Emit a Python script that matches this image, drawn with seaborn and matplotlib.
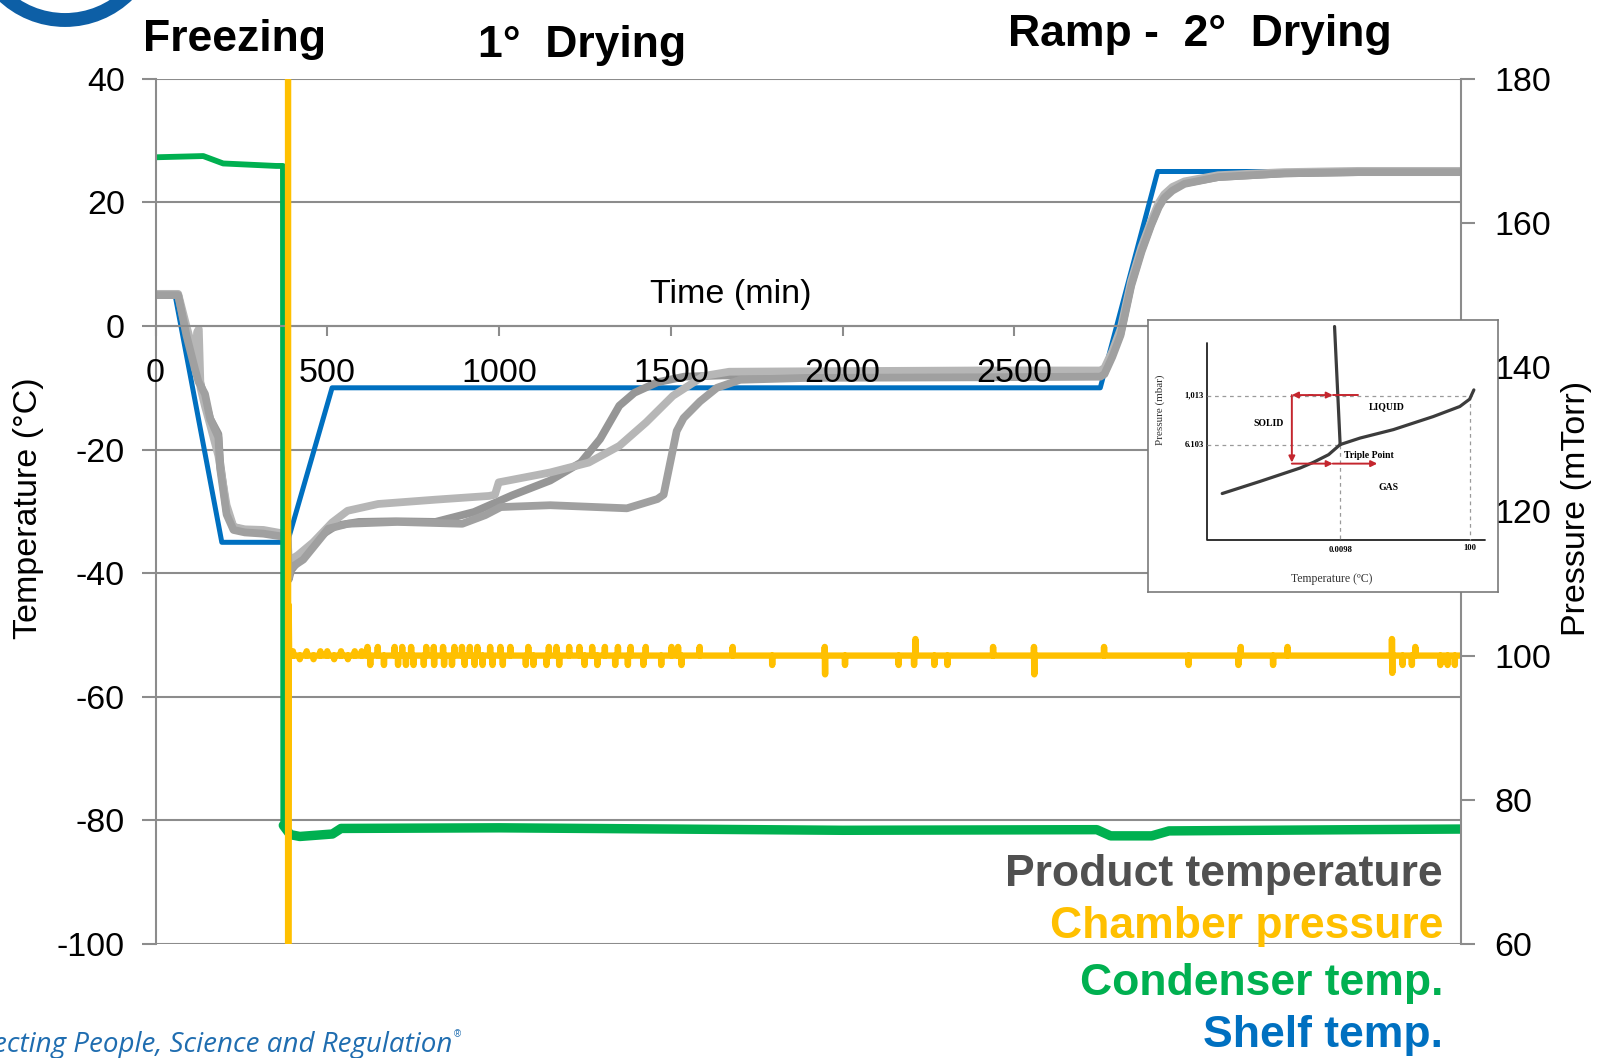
import numpy as np
import pandas as pd
import matplotlib
matplotlib.use("Agg")
import matplotlib.pyplot as plt
import seaborn as sns
from matplotlib.patches import Arc

# ---------------- data ----------------
shelf_t = [0, 57, 193, 384, 514, 2750, 2917, 3800]
shelf_T = [5, 5, -35, -35, -10, -10, 25, 25]

prodA_t = [0, 66, 90, 115, 144, 159, 183, 188, 207, 227, 260, 314, 384, 388, 395, 430, 481, 526, 592, 700, 815,
           927, 1038, 1149, 1238, 1294, 1350, 1394, 1461, 1539, 1650, 2000, 2400, 2750, 2762, 2785, 2809,
           2840, 2870, 2898, 2920, 2936, 2960, 2995, 3093, 3286, 3500, 3800]
prodA_T = [5, 5, -1, -6, -12, -15, -17.5, -22, -30, -32.5, -33.1, -33.3, -34, -41, -39.5, -37, -33.9, -32.3,
           -31.7, -31.6, -31.7, -30.1, -27.4, -25, -22.1, -18.3, -12.9, -10.8, -9.1, -8.2, -8.0, -8.0, -8.1,
           -8.0, -7.6, -4.5, -1.2, 6.8, 12.3, 16.5, 19.4, 20.8, 22.2, 23.1, 24.1, 24.7, 24.9, 24.9]

prodB_t = [0, 66, 90, 110, 116, 121, 126, 131, 144, 159, 183, 207, 227, 260, 314, 384, 388, 414, 459, 514, 559,
           648, 815, 971, 988, 999, 1149, 1261, 1350, 1428, 1506, 1595, 1670, 2000, 2400, 2750, 2762,
           2785, 2809, 2840, 2870, 2898, 2920, 2936, 2960, 2995, 3093, 3286, 3500, 3800]
prodB_T = [5.2, 5.2, 0, -4, -7, -1, -0.5, -10, -13, -16, -21, -29, -32.5, -32.9, -33, -33.7, -38, -37.1, -35,
           -31.8, -29.9, -28.8, -28.1, -27.5, -27.3, -25.3, -23.7, -22.1, -19.4, -15.6, -11.3, -8.1,
           -7.4, -7.3, -7.2, -7.2, -6.8, -4.1, -0.5, 7.3, 12.8, 17, 19.9, 21.3, 22.5, 23.4, 24.4, 24.9, 25.1, 25.1]

prodC_t = [0, 66, 90, 115, 125, 144, 159, 183, 188, 207, 227, 260, 314, 384, 388, 392, 430, 503, 560, 704, 893,
           960, 1005, 1149, 1372, 1461, 1479, 1493, 1517, 1537, 1585, 1634, 1702, 1896, 2400, 2750,
           2762, 2785, 2809, 2840, 2870, 2898, 2920, 2936, 2960, 2995, 3093, 3286, 3500, 3800]
prodC_T = [5, 5, -1.5, -7, -9, -11, -15, -18, -23, -30.5, -33, -33.4, -33.6, -34.2, -40.5, -39.2, -37.8, -32.8,
           -32, -31.7, -32, -30.6, -29.3, -29, -29.5, -28, -27.3, -23.5, -17, -14.9, -12.2, -10, -8.7, -8.4,
           -8.3, -8.2, -7.8, -5, -1.5, 6.5, 12, 16.3, 19.2, 20.7, 21.9, 23, 24.1, 24.7, 24.9, 24.9]

cond_t = [0, 139, 197, 351, 371, 372, 392, 420, 515, 540, 1000, 2000, 2740, 2780, 2900, 2950, 3500, 3800]
cond_T = [27.3, 27.5, 26.3, 25.9, 25.9, -80.8, -82.3, -82.6, -82.2, -81.3, -81.2, -81.6, -81.5, -82.5,
          -82.5, -81.7, -81.5, -81.4]

press_base_t = [0, 385, 386, 387.5, 389, 3800]
press_base_v = [1000, 1000, 30, 107, 100, 100]
press_small_t = [400, 420, 440, 460, 480, 500, 520, 540, 560, 580, 600]
press_small_v = [100.6, 99.5, 100.6, 99.5, 100.6, 100.6, 99.5, 100.6, 99.5, 100.6, 100.6]
press_up_t = [617, 647, 696, 718, 744, 788, 810, 837, 870, 892, 915, 937, 974, 1004, 1033, 1085, 1145,
              1167, 1204, 1234, 1271, 1308, 1346, 1383, 1427, 1502, 1521, 1584, 1680, 1948, 2212, 2438,
              2557, 2761, 3159, 3295, 3599, 3667]
press_up_v = [101.2] * 30 + [102.3, 101.2, 101.2, 101.2, 101.2, 101.2, 102.3, 101.2]
press_dn_t = [625, 665, 706, 729, 751, 781, 811, 840, 863, 900, 929, 952, 981, 1011, 1078, 1100, 1138,
              1175, 1249, 1286, 1338, 1375, 1420, 1472, 1531, 1795, 1949, 2007, 2163, 2208, 2267, 2305,
              2558, 3007, 3152, 3253, 3600, 3630, 3657, 3740, 3761, 3782]
press_dn_v = [98.7] * 26 + [97.4, 98.7, 98.7, 98.7, 98.7, 98.7, 97.4, 98.7, 98.7, 98.7, 97.6, 98.7,
                             98.7, 98.7, 98.7, 98.7]

x_ticks = [0, 500, 1000, 1500, 2000, 2500, 3000, 3500]
x_tick_labels = ["0", "500", "1000", "1500", "2000", "2500", "", ""]
temp_ticks = [-100, -80, -60, -40, -20, 0, 20, 40]
press_ticks = [60, 80, 100, 120, 140, 160, 180]

# inset phase diagram (schematic units)
fusion_u = [53.3, 54.9]
fusion_v = [97.6, 54.2]
vapor_u = [54.9, 60.6, 70.1, 81.5, 89.1, 91.9, 93.1]
vapor_v = [54.2, 56.6, 59.7, 64.5, 68.2, 70.9, 74.3]
sublim_u = [54.9, 51.6, 47.3, 43.5, 32.1, 21.2]
sublim_v = [54.2, 50.5, 47.7, 45.6, 40.7, 36.2]

# ---------------- build frames ----------------
prod = pd.concat([
    pd.DataFrame({"t": prodA_t, "T": prodA_T, "run": "A"}),
    pd.DataFrame({"t": prodB_t, "T": prodB_T, "run": "B"}),
    pd.DataFrame({"t": prodC_t, "T": prodC_T, "run": "C"}),
], ignore_index=True)

cond = pd.DataFrame({"t": cond_t, "T": cond_T})

pts = list(zip(press_base_t, press_base_v))
for tt, vv in list(zip(press_small_t, press_small_v)) + list(zip(press_up_t, press_up_v)) + list(zip(press_dn_t, press_dn_v)):
    pts += [(tt - 0.35, 100), (tt, vv), (tt + 0.35, 100)]
pts.sort(key=lambda p: p[0])
press = pd.DataFrame(pts, columns=["t", "P"])

# ---------------- style ----------------
sns.set_theme(style="white")
plt.rcParams["font.family"] = ["Liberation Sans", "DejaVu Sans"]
plt.rcParams["axes.unicode_minus"] = False
plt.rcParams["text.color"] = "black"
GRID = "#8c8c8c"

fig = plt.figure(figsize=(16.04, 10.58), dpi=100)
ax = fig.add_axes([0.09695, 0.10775, 0.8139, 0.81777])

for yv in temp_ticks:
    ax.axhline(yv, color=GRID, lw=1.5, zorder=0.3)

sns.lineplot(x=shelf_t, y=shelf_T, ax=ax, color="#0070C0", lw=3.6, estimator=None, sort=False)
sns.lineplot(data=prod, x="t", y="T", hue="run", ax=ax, palette=["#969696", "#b6b6b6", "#a0a0a0"],
             lw=5.6, estimator=None, sort=False, legend=False)
sns.lineplot(data=cond, x="t", y="T", ax=ax, color="#00B050", lw=4.2, estimator=None, sort=False)
sns.lineplot(data=cond[cond["t"] >= 372], x="t", y="T", ax=ax, color="#00B050", lw=6.8,
             estimator=None, sort=False)

ax.set_xlim(0, 3800)
ax.set_ylim(-100, 40)
ax.set_xticks(x_ticks)
ax.set_xticklabels(x_tick_labels)
ax.set_yticks(temp_ticks)
ax.set_xlabel("")
ax.set_ylabel("")
ax.grid(False)
ax.set_axisbelow(False)
ax.spines["bottom"].set_position(("data", 0))
for s in ["bottom", "left"]:
    ax.spines[s].set_color(GRID)
    ax.spines[s].set_linewidth(1.5)
ax.spines["top"].set_visible(False)
ax.spines["right"].set_visible(False)
ax.tick_params(axis="x", direction="out", length=7, width=1.5, color=GRID, pad=16, labelsize=24.5,
               labelcolor="black", bottom=True)
ax.tick_params(axis="y", direction="out", length=10, width=1.5, color=GRID, pad=12, labelsize=24.5,
               labelcolor="black", left=True)
ax.set_facecolor("none")

ax2 = ax.twinx()
sns.lineplot(data=press, x="t", y="P", ax=ax2, color="#FFC000", lw=4.6, estimator=None, sort=False)
ax2.set_ylim(60, 180)
ax2.set_xlim(0, 3800)
ax2.set_yticks(press_ticks)
ax2.set_ylabel("")
ax2.set_xlabel("")
ax2.grid(False)
for s in ["top", "left", "bottom"]:
    ax2.spines[s].set_visible(False)
ax2.spines["right"].set_color(GRID)
ax2.spines["right"].set_linewidth(1.5)
ax2.tick_params(axis="y", direction="out", length=10, width=1.5, color=GRID, pad=14, labelsize=24.5,
                labelcolor="black", right=True)

# axis titles
W, H = 1604.0, 1058.0
fig.text(28.6 / W, 1 - 508 / H, "Temperature (°C)", rotation=90, ha="center", va="center", fontsize=24.5)
fig.text(1577 / W, 1 - 508 / H, "Pressure (mTorr)", rotation=90, ha="center", va="center", fontsize=24.5)
fig.text(731 / W, 1 - 294 / H, "Time (min)", ha="center", va="center", fontsize=24.5)

# phase titles
fig.text(143 / W, 1 - 51 / H, "Freezing", fontsize=32, weight="bold", ha="left", va="baseline")
fig.text(478 / W, 1 - 57 / H, "1°  Drying", fontsize=32, weight="bold", ha="left", va="baseline")
fig.text(1008 / W, 1 - 46 / H, "Ramp -  2°  Drying", fontsize=32, weight="bold", ha="left", va="baseline")

# legend texts
for txt, col, yb in [("Product temperature", "#505050", 886), ("Chamber pressure", "#FFC000", 938),
                     ("Condenser temp.", "#00B050", 995), ("Shelf temp.", "#0070C0", 1047)]:
    fig.text(1443 / W, 1 - yb / H, txt, fontsize=32, weight="bold", color=col, ha="right", va="baseline")

# footer & logo
fig.text(452 / W, 1 - 1052 / H, "Connecting People, Science and Regulation", fontsize=20, style="italic",
         color="#1f6db0", ha="right", va="baseline", family=["Open Sans", "DejaVu Sans"])
fig.text(454 / W, 1 - 1037 / H, "®", fontsize=7, color="#1f6db0", ha="left", va="baseline")
fig.add_artist(Arc((0.65, 11.28), 1.8, 1.8, theta1=180, theta2=360, transform=fig.dpi_scale_trans,
                   lw=10, color="#0d5fa6"))

# ---------------- inset phase diagram ----------------
ins = fig.add_axes([1148 / W, 1 - 592 / H, 350 / W, 272 / H], zorder=5)
ins.set_facecolor("white")
ins.set_xlim(0, 100)
ins.set_ylim(0, 100)
ins.set_xticks([])
ins.set_yticks([])
for s in ins.spines.values():
    s.set_color("#7a7a7a")
    s.set_linewidth(1.2)
    s.set_visible(True)
SER = ["Liberation Serif", "DejaVu Serif"]
ins.plot([16.9, 16.9, 96.2], [91.4, 19.3, 19.3], color="#222222", lw=1.3)
dash = dict(color="#9a9a9a", lw=0.9, ls=(0, (3, 3)))
ins.plot([16.9, 92.5], [72.1, 72.1], **dash)
ins.plot([16.9, 54.9], [54.2, 54.2], **dash)
ins.plot([54.9, 54.9], [54.2, 19.3], **dash)
ins.plot([91.9, 91.9], [72.1, 19.3], **dash)
for uu, vv in [(fusion_u, fusion_v), (vapor_u, vapor_v), (sublim_u, sublim_v)]:
    sns.lineplot(x=uu, y=vv, ax=ins, color="#3c3c3c", lw=2.3, estimator=None, sort=False)
RED = "#c4262e"
arw = dict(arrowstyle="-|>", color=RED, lw=1.4, mutation_scale=9, shrinkA=0, shrinkB=0)
ins.annotate("", xy=(41.1, 47.6), xytext=(41.1, 72.4), arrowprops=arw)
ins.annotate("", xy=(41.1, 72.4), xytext=(47, 72.4), arrowprops=arw)
ins.annotate("", xy=(52.8, 72.4), xytext=(46, 72.4), arrowprops=arw)
ins.plot([52.8, 60.1], [72.4, 72.4], color=RED, lw=1.4)
ins.annotate("", xy=(52.8, 47.2), xytext=(41.1, 47.2), arrowprops=arw)
ins.annotate("", xy=(65.5, 47.2), xytext=(52.8, 47.2), arrowprops=arw)
fs = 6.2
ins.text(16.0, 72.1, "1,013", ha="right", va="center", fontsize=fs, weight="bold", family=SER)
ins.text(16.0, 54.2, "6.103", ha="right", va="center", fontsize=fs, weight="bold", family=SER)
ins.text(54.9, 15.6, "0.0098", ha="center", va="center", fontsize=fs, weight="bold", family=SER)
ins.text(91.9, 16.3, "100", ha="center", va="center", fontsize=fs, weight="bold", family=SER)
ins.text(34.5, 62.1, "SOLID", ha="center", va="center", fontsize=7, weight="bold", family=SER)
ins.text(68.2, 68.2, "LIQUID", ha="center", va="center", fontsize=7, weight="bold", family=SER)
ins.text(68.7, 38.3, "GAS", ha="center", va="center", fontsize=7, weight="bold", family=SER)
ins.text(63.0, 50.2, "Triple Point", ha="center", va="center", fontsize=7, weight="bold", family=SER)
ins.text(3.6, 67, "Pressure (mbar)", ha="center", va="center", rotation=90, fontsize=8, family=SER,
         color="#333333")
ins.text(52.5, 4.9, "Temperature (ºC)", ha="center", va="center", fontsize=8.5, family=SER, color="#333333")

fig.savefig("out.png", dpi=100)
